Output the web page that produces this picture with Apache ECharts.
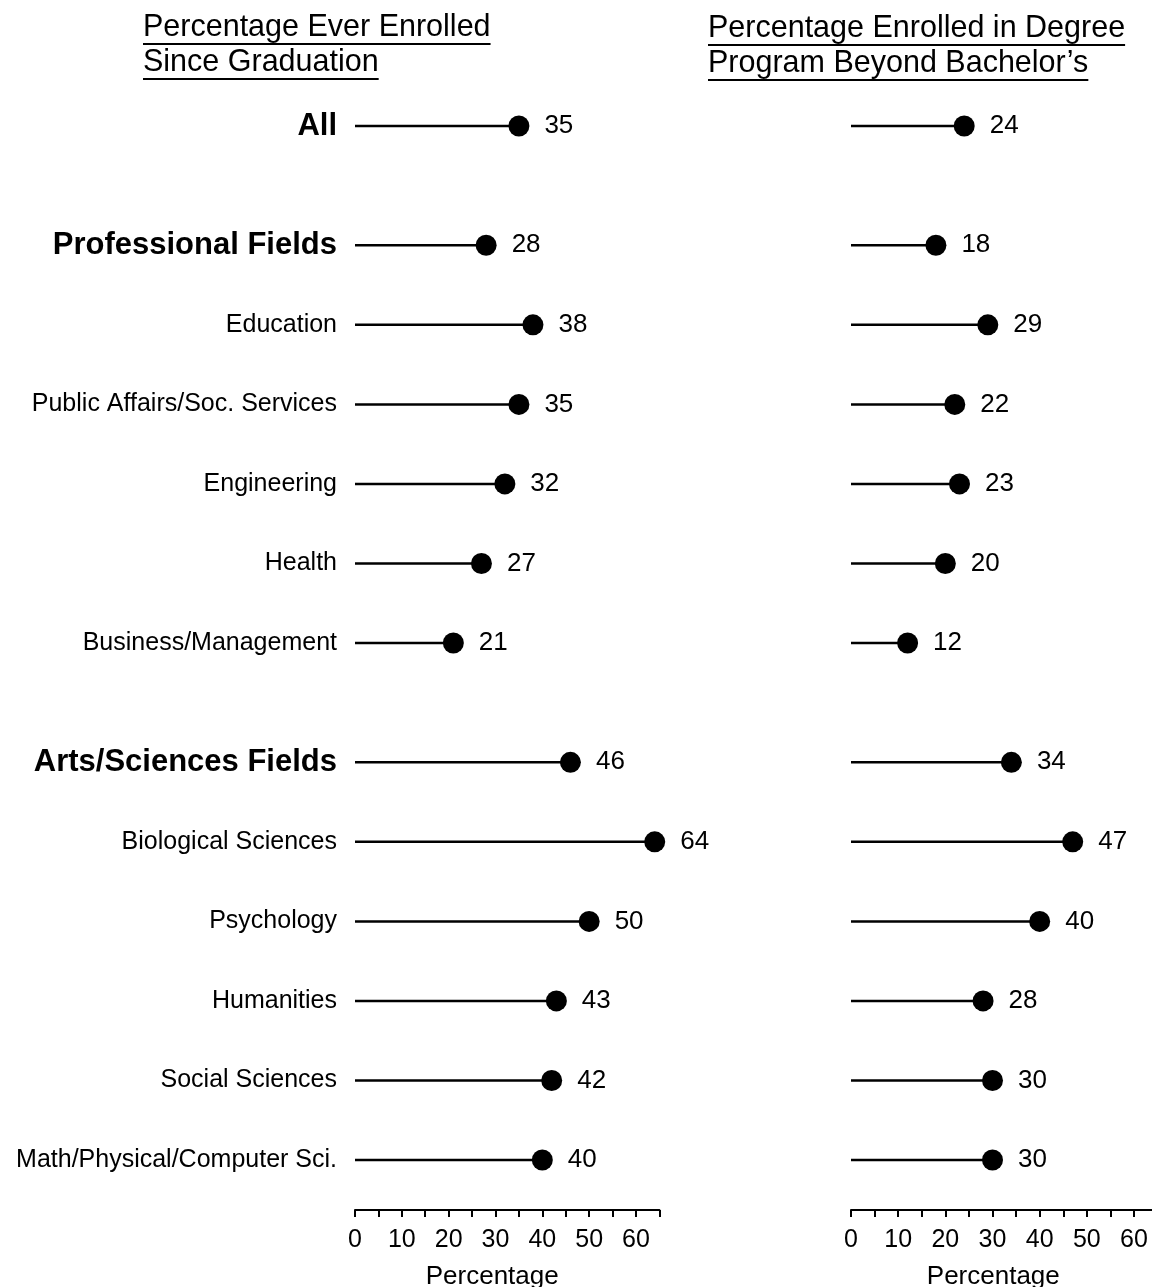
<!DOCTYPE html>
<html>
<head>
<meta charset="utf-8">
<script src="https://cdn.jsdelivr.net/npm/echarts@6/dist/echarts.min.js"></script>
<style>
html,body{margin:0;padding:0;background:#fff;}
#chart{width:1152px;height:1287px;}
</style>
</head>
<body>
<div id="chart"></div>
<script>
// ---- data ----
const categories = ['All','Professional Fields','Education','Public Affairs/Soc. Services','Engineering','Health','Business/Management','Arts/Sciences Fields','Biological Sciences','Psychology','Humanities','Social Sciences','Math/Physical/Computer Sci.'];
const summaryRows = ['All','Professional Fields','Arts/Sciences Fields'];
const everEnrolled = [35,28,38,35,32,27,21,46,64,50,43,42,40];
const degreeEnrolled = [24,18,29,22,23,20,12,34,47,40,28,30,30];
const leftTitle = ['Percentage Ever Enrolled','Since Graduation'];
const rightTitle = ['Percentage Enrolled in Degree','Program Beyond Bachelor\u2019s'];
const axisName = 'Percentage';

// ---- build half-row slots (rows every 2 slots, 3 slots before group headers) ----
const slots = [];
const slotIndexOf = [];
categories.forEach((c, i) => {
  if (i > 0) {
    const gaps = summaryRows.includes(c) ? 2 : 1;
    for (let g = 0; g < gaps; g++) slots.push('#gap' + slots.length);
  }
  slotIndexOf.push(slots.length);
  slots.push(c);
});
function barData(vals){
  const d = slots.map(() => '-');
  vals.forEach((v,i) => { d[slotIndexOf[i]] = v; });
  return d;
}
function dotData(vals){
  return vals.map((v,i) => [v, slotIndexOf[i]]);
}

const FONT = 'Liberation Sans, Arial, Helvetica, sans-serif';
const chart = echarts.init(document.getElementById('chart'), null, {renderer:'canvas'});

const ctx = document.createElement('canvas').getContext('2d');
function textW(t, size){ ctx.font = size + 'px ' + FONT; return ctx.measureText(t).width; }

function titleGraphics(lines, x, ys, size){
  const out = [];
  lines.forEach((t, k) => {
    out.push({type:'text', x: x, y: ys[k], style:{text:t, font: size+'px '+FONT, fill:'#000', verticalAlign:'middle', align:'left'}});
    const w = textW(t, size);
    out.push({type:'line', shape:{x1:x, y1:ys[k]+16, x2:x+w, y2:ys[k]+16}, style:{stroke:'#000', lineWidth:2}});
  });
  return out;
}

function xAxisCfg(gridIndex, namePad){
  return {
    type:'value', gridIndex, min:0, max:65, interval:5, offset:30,
    axisLine:{show:true, lineStyle:{color:'#000', width:2}},
    axisTick:{show:true, inside:false, length:7, lineStyle:{color:'#000', width:2}},
    axisLabel:{show:true, margin:18, fontSize:25, color:'#000', fontFamily:FONT,
      formatter: v => (v % 10 === 0 && v <= 60) ? String(v) : ''},
    splitLine:{show:false},
    name: axisName, nameLocation:'middle', nameGap:54,
    nameTextStyle:{fontSize:26, color:'#000', fontFamily:FONT, padding:[0, namePad, 0, 0]}
  };
}

const option = {
  animation:false,
  backgroundColor:'#fff',
  grid:[
    {left:355, right:1152-659.4, top:106.1, height:1073.8, outerBoundsMode:'none', containLabel:false},
    {left:851, right:1152-1157.6, top:106.1, height:1073.8, outerBoundsMode:'none', containLabel:false}
  ],
  xAxis:[ xAxisCfg(0, 30), xAxisCfg(1, 22) ],
  yAxis:[
    {type:'category', gridIndex:0, data:slots, inverse:true,
     axisLine:{show:false}, axisTick:{show:false},
     axisLabel:{interval:0, margin:18, color:'#000', fontFamily:FONT,
       formatter: v => v.startsWith('#gap') ? '' : (summaryRows.includes(v) ? '{b|'+v+'}' : '{n|'+v+'}'),
       rich:{
         b:{fontSize:31, fontWeight:'bold', color:'#000', fontFamily:FONT},
         n:{fontSize:25, color:'#000', fontFamily:FONT}
       }}},
    {type:'category', gridIndex:1, data:slots, inverse:true,
     axisLine:{show:false}, axisTick:{show:false}, axisLabel:{show:false}}
  ],
  series:[
    {type:'bar', xAxisIndex:0, yAxisIndex:0, data:barData(everEnrolled), barWidth:2.5, itemStyle:{color:'#000'}, silent:true},
    {type:'scatter', xAxisIndex:0, yAxisIndex:0, data:dotData(everEnrolled), symbolSize:21, itemStyle:{color:'#000', opacity:1},
     label:{show:true, position:'right', distance:15, fontSize:26, color:'#000', fontFamily:FONT, formatter:p => p.value[0]}},
    {type:'bar', xAxisIndex:1, yAxisIndex:1, data:barData(degreeEnrolled), barWidth:2.5, itemStyle:{color:'#000'}, silent:true},
    {type:'scatter', xAxisIndex:1, yAxisIndex:1, data:dotData(degreeEnrolled), symbolSize:21, itemStyle:{color:'#000', opacity:1},
     label:{show:true, position:'right', distance:15, fontSize:26, color:'#000', fontFamily:FONT, formatter:p => p.value[0]}}
  ],
  graphic: [
    ...titleGraphics(leftTitle, 143, [28, 63], 30.5),
    ...titleGraphics(rightTitle, 708, [29, 64], 30.5)
  ]
};
chart.setOption(option);
</script>
</body>
</html>
